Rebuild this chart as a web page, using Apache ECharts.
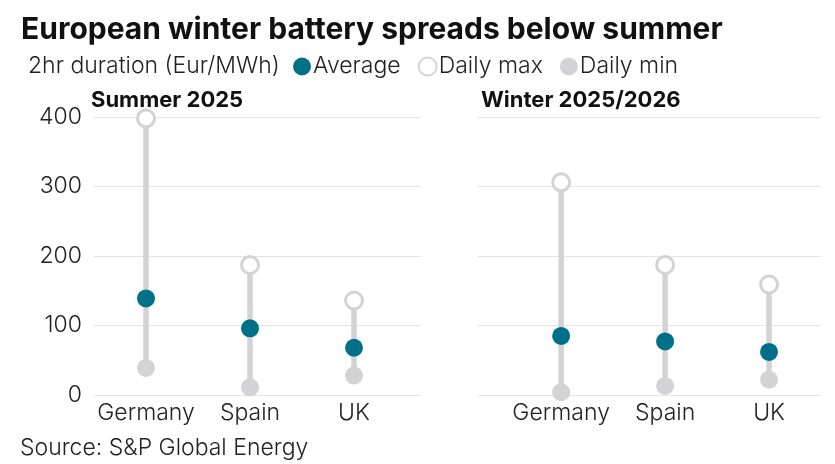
<!DOCTYPE html>
<html>
<head>
<meta charset="utf-8">
<script src="https://cdn.jsdelivr.net/npm/echarts@6/dist/echarts.min.js"></script>
<style>
html,body{margin:0;padding:0;background:#fff;}
#c{width:835px;height:464px;}
</style>
</head>
<body>
<div id="c"></div>
<script>
var categories = ['Germany', 'Spain', 'UK'];
var summerAvg = [139, 96, 68];
var summerMax = [398, 187, 136];
var summerMin = [39, 11, 28];
var winterAvg = [85, 77, 62];
var winterMax = [306, 187, 159];
var winterMin = [4, 13, 22];
var yTicks = [0, 100, 200, 300, 400];

var TEAL = '#006f88';
var GRAY = '#d3d3d5';
var FONT = 'Inter';

function pts(arr) { return arr.map(function (v, i) { return [i, v]; }); }
function ranges(mn, mx) { return mn.map(function (v, i) { return [i, v, mx[i]]; }); }

function renderRange(params, api) {
  var x = api.value(0);
  var p1 = api.coord([x, api.value(1)]);
  var p2 = api.coord([x, api.value(2)]);
  return {
    type: 'line',
    shape: { x1: p1[0], y1: p1[1], x2: p2[0], y2: p2[1] },
    style: { stroke: GRAY, lineWidth: 5.5 }
  };
}

function xLabel(v) {
  var r = Math.round(v);
  if (Math.abs(v - r) < 1e-6 && r >= 0 && r < categories.length) return categories[r];
  return '';
}

var chart = echarts.init(document.getElementById('c'), null, { renderer: 'canvas' });

var xAxisBase = {
  type: 'value',
  interval: 0.1,
  axisLine: { show: false },
  axisTick: { show: false },
  splitLine: { show: false },
  axisLabel: { formatter: xLabel, fontFamily: FONT, fontSize: 23, fontWeight: 300, color: '#222', margin: 7, showMinLabel: true, showMaxLabel: false, hideOverlap: false }
};
var yAxisBase = {
  type: 'value', min: yTicks[0], max: yTicks[yTicks.length - 1], interval: 100,
  axisLine: { show: false }, axisTick: { show: false },
  splitLine: { lineStyle: { color: '#e4e4e4', width: 1 } }
};

var maxStyle = { color: '#fff', borderColor: GRAY, borderWidth: 3, opacity: 1 };

chart.setOption({
  animation: false,
  textStyle: { fontFamily: FONT },
  title: [
    { text: 'European winter battery spreads below summer', left: 16, top: 10,
      textStyle: { fontFamily: FONT, fontSize: 30, fontWeight: 'bold', color: '#111' } },
    { text: '2hr duration (Eur/MWh)', left: 23, top: 50,
      textStyle: { fontFamily: FONT, fontSize: 23, fontWeight: 300, color: '#222' } },
    { text: 'Summer 2025', left: 86, top: 84,
      textStyle: { fontFamily: FONT, fontSize: 22, fontWeight: 'bold', color: '#111' } },
    { text: 'Winter 2025/2026', left: 476, top: 84,
      textStyle: { fontFamily: FONT, fontSize: 22, fontWeight: 'bold', color: '#111' } },
    { text: 'Source: S&P Global Energy', left: 15, top: 432,
      textStyle: { fontFamily: FONT, fontSize: 23, fontWeight: 300, color: '#222' } }
  ],
  legend: {
    left: 288, top: 50, itemWidth: 18, itemHeight: 18, itemGap: 17,
    icon: 'circle',
    textStyle: { fontFamily: FONT, fontSize: 23, fontWeight: 300, color: '#222', padding: [0, 0, 0, -3] },
    data: ['Average', 'Daily max', 'Daily min']
  },
  grid: [
    { left: 94, right: 414, top: 117, bottom: 69 },
    { left: 478, right: 14, top: 117, bottom: 69 }
  ],
  xAxis: [
    Object.assign({}, xAxisBase, { gridIndex: 0, min: -0.5, max: 2.644 }),
    Object.assign({}, xAxisBase, { gridIndex: 1, min: -0.8, max: 2.5 })
  ],
  yAxis: [
    Object.assign({}, yAxisBase, { gridIndex: 0,
      axisLabel: { fontFamily: FONT, fontSize: 23, fontWeight: 300, color: '#222', margin: 12 } }),
    Object.assign({}, yAxisBase, { gridIndex: 1, axisLabel: { show: false } })
  ],
  series: [
    { type: 'custom', xAxisIndex: 0, yAxisIndex: 0, renderItem: renderRange, data: ranges(summerMin, summerMax), z: 1, silent: true },
    { type: 'custom', xAxisIndex: 1, yAxisIndex: 1, renderItem: renderRange, data: ranges(winterMin, winterMax), z: 1, silent: true },
    { name: 'Daily min', type: 'scatter', xAxisIndex: 0, yAxisIndex: 0, symbolSize: 18, itemStyle: { color: GRAY, opacity: 1 }, data: pts(summerMin), z: 2 },
    { name: 'Daily max', type: 'scatter', xAxisIndex: 0, yAxisIndex: 0, symbolSize: 17, itemStyle: maxStyle, data: pts(summerMax), z: 2 },
    { name: 'Average', type: 'scatter', xAxisIndex: 0, yAxisIndex: 0, symbolSize: 18, itemStyle: { color: TEAL, opacity: 1 }, data: pts(summerAvg), z: 3 },
    { name: 'Daily min', type: 'scatter', xAxisIndex: 1, yAxisIndex: 1, symbolSize: 18, itemStyle: { color: GRAY, opacity: 1 }, data: pts(winterMin), z: 2 },
    { name: 'Daily max', type: 'scatter', xAxisIndex: 1, yAxisIndex: 1, symbolSize: 17, itemStyle: maxStyle, data: pts(winterMax), z: 2 },
    { name: 'Average', type: 'scatter', xAxisIndex: 1, yAxisIndex: 1, symbolSize: 18, itemStyle: { color: TEAL, opacity: 1 }, data: pts(winterAvg), z: 3 }
  ]
});
</script>
</body>
</html>
